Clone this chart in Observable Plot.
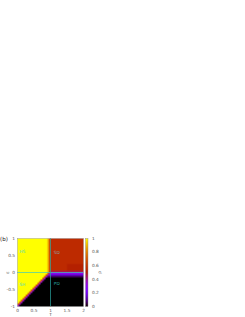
<!DOCTYPE html>
<html><head><meta charset="utf-8">
<script src="https://cdn.jsdelivr.net/npm/d3@7"></script>
<script src="https://cdn.jsdelivr.net/npm/@observablehq/plot@0.6"></script>
<style>
html,body{margin:0;padding:0;background:#fff;width:245px;height:317px;overflow:hidden;}
#wrap{position:relative;width:245px;height:317px;font-family:"DejaVu Sans",sans-serif;}
#main{position:absolute;left:0;top:225px;}
#bar{position:absolute;left:80px;top:225px;}
#tag{position:absolute;left:0;top:236px;font-size:5.5px;line-height:6px;color:#222;}
svg{overflow:visible;}
</style></head><body>
<div id="wrap"><div id="tag">(b)</div><div id="main"></div><div id="bar"></div></div>
<script>
// rho level codes: index in this string / 20
const levelCodes = "0123456789ABCDEFGHIJK";
// 40 x 40 grid, rows from eps = +1 (top) to -1 (bottom), columns T = 0 .. 2
const rhoRows = [
"KKKKKKKKKKKKKKKKKKIDBBBBBBBBBBBBBBBBBBBB",
"KKKKKKKKKKKKKKKKKKIDBBBBBBBBBBBBBBBBBBBB",
"KKKKKKKKKKKKKKKKKKIDBBBBBBBBBBBBBBBBBBBB",
"KKKKKKKKKKKKKKKKKKIDBBBBBBBBBBBBBBBBBBBB",
"KKKKKKKKKKKKKKKKKKIDBBBBBBBBBBBBBBBBBBBB",
"KKKKKKKKKKKKKKKKKKIDBBBBBBBBBBBBBBBBBBBB",
"KKKKKKKKKKKKKKKKKKIDBBBBBBBBBBBBBBBBBBBB",
"KKKKKKKKKKKKKKKKKKIDBBBBBBBBBBBBBBBBBBBB",
"KKKKKKKKKKKKKKKKKKIDBBBBBBBBBBBBBBBBBBBB",
"KKKKKKKKKKKKKKKKKKIDBBBBBBBBBBBBBBBBBBBB",
"KKKKKKKKKKKKKKKKKKIDBBBBBBBBBBBBBBBBBBBB",
"KKKKKKKKKKKKKKKKKKIDBBBBBBBBBBBBBBBBBBBB",
"KKKKKKKKKKKKKKKKKKIDBBBBBBBBBBBBBBBBBBBB",
"KKKKKKKKKKKKKKKKKKIDBBBBBBBBBBBBBBBBBBBB",
"KKKKKKKKKKKKKKKKKKIDBBBBBBBBBBBBBBBBBBBB",
"KKKKKKKKKKKKKKKKKKIDBBBBBBBBBBAAAAAAAAAA",
"KKKKKKKKKKKKKKKKKKIDBBBBBBBBBBAAAAAAAAAA",
"KKKKKKKKKKKKKKKKKKIDBBBBBBBBBBAAAAAAAAAA",
"KKKKKKKKKKKKKKKKKKIDBBBBBBBBBBAAAAAAAAAA",
"KKKKKKKKKKKKKKKKKKIC99999999999999999999",
"KKKKKKKKKKKKKKKKKKE766666666666666666666",
"KKKKKKKKKKKKKKKKKE7433333333333333333333",
"KKKKKKKKKKKKKKKKE71111111111111111111111",
"KKKKKKKKKKKKKKKE700000000000000000000000",
"KKKKKKKKKKKKKKE7000000000000000000000000",
"KKKKKKKKKKKKKE70000000000000000000000000",
"KKKKKKKKKKKKE700000000000000000000000000",
"KKKKKKKKKKKE7000000000000000000000000000",
"KKKKKKKKKKE70000000000000000000000000000",
"KKKKKKKKKE700000000000000000000000000000",
"KKKKKKKKE7000000000000000000000000000000",
"KKKKKKKE70000000000000000000000000000000",
"KKKKKKE700000000000000000000000000000000",
"KKKKKE7000000000000000000000000000000000",
"KKKKE70000000000000000000000000000000000",
"KKKE700000000000000000000000000000000000",
"KKE7000000000000000000000000000000000000",
"KE70000000000000000000000000000000000000",
"E700000000000000000000000000000000000000",
"7000000000000000000000000000000000000000"
];
const tTicks = [0, 0.5, 1, 1.5, 2];
const epsTicks = [-1, -0.5, 0, 0.5, 1];
const rhoTicks = [0, 0.2, 0.4, 0.6, 0.8, 1];
const phaseNames = ["HS", "SH", "SD", "PD"];
const phaseT = [0.05, 0.05, 1.1, 1.1];
const phaseEps = [0.6, -0.35, 0.58, -0.34];
const phaseColors = ["#3fd8d2", "#3fd8d2", "#8fa0a0", "#2aa7a2"];

rhoRows.forEach((r, i) => { if (r.length !== 40) throw new Error("row " + i + " has length " + r.length); });
const values = rhoRows.flatMap(row => Array.from(row, ch => levelCodes.indexOf(ch) / 20));
const gnuplot = t => d3.rgb(255 * Math.sqrt(t), 255 * t * t * t, 255 * Math.max(0, Math.sin(2 * Math.PI * t))).toString();
const phases = phaseNames.map((n, i) => ({name: n, T: phaseT[i], eps: phaseEps[i], c: phaseColors[i]}));
const fmt = d => String(d);

const font = {fontFamily: "'DejaVu Sans', sans-serif", fontSize: "4.3px", color: "#555", background: "transparent", overflow: "visible"};

const main = Plot.plot({
  width: 110, height: 92, marginLeft: 17, marginRight: 27, marginTop: 13, marginBottom: 11,
  style: font,
  x: {domain: [0, 2], ticks: tTicks, tickFormat: fmt, tickSize: 0, tickPadding: 2, label: "T", labelAnchor: "center", labelOffset: 9, labelArrow: "none"},
  y: {domain: [-1, 1], ticks: epsTicks, tickFormat: fmt, tickSize: 0, tickPadding: 2.5, label: "ε", labelAnchor: "center", labelOffset: 12, labelArrow: "none"},
  color: {type: "linear", domain: [0, 1], interpolate: gnuplot},
  marks: [
    Plot.raster(values, {width: 40, height: 40, x1: 0, x2: 2, y1: 1, y2: -1, fill: d => d}),
    Plot.ruleY([0], {stroke: "#3cc8c0", strokeWidth: 0.7}),
    Plot.ruleX([1], {stroke: "#2aa5a0", strokeWidth: 0.7}),
    Plot.text(phases, {x: "T", y: "eps", text: "name", fill: "c", textAnchor: "start", fontSize: 4.3}),
    Plot.frame({stroke: "#888", strokeWidth: 0.4})
  ]
});
document.getElementById("main").appendChild(main);

const bar = Plot.plot({
  width: 30, height: 92, marginLeft: 5, marginRight: 22.5, marginTop: 13, marginBottom: 11,
  style: font,
  x: {domain: [0, 1], axis: null},
  y: {domain: [0, 1], ticks: rhoTicks, tickFormat: fmt, tickSize: 0, tickPadding: 4, axis: "right", label: "ρ", labelAnchor: "center", labelOffset: 13, labelArrow: "none"},
  color: {type: "linear", domain: [0, 1], interpolate: gnuplot},
  marks: [
    Plot.raster({fill: (x, y) => y, x1: 0, x2: 1, y1: 0, y2: 1, width: 1, height: 100}),
    Plot.frame({stroke: "#888", strokeWidth: 0.4})
  ]
});
document.getElementById("bar").appendChild(bar);
</script>
</body></html>
